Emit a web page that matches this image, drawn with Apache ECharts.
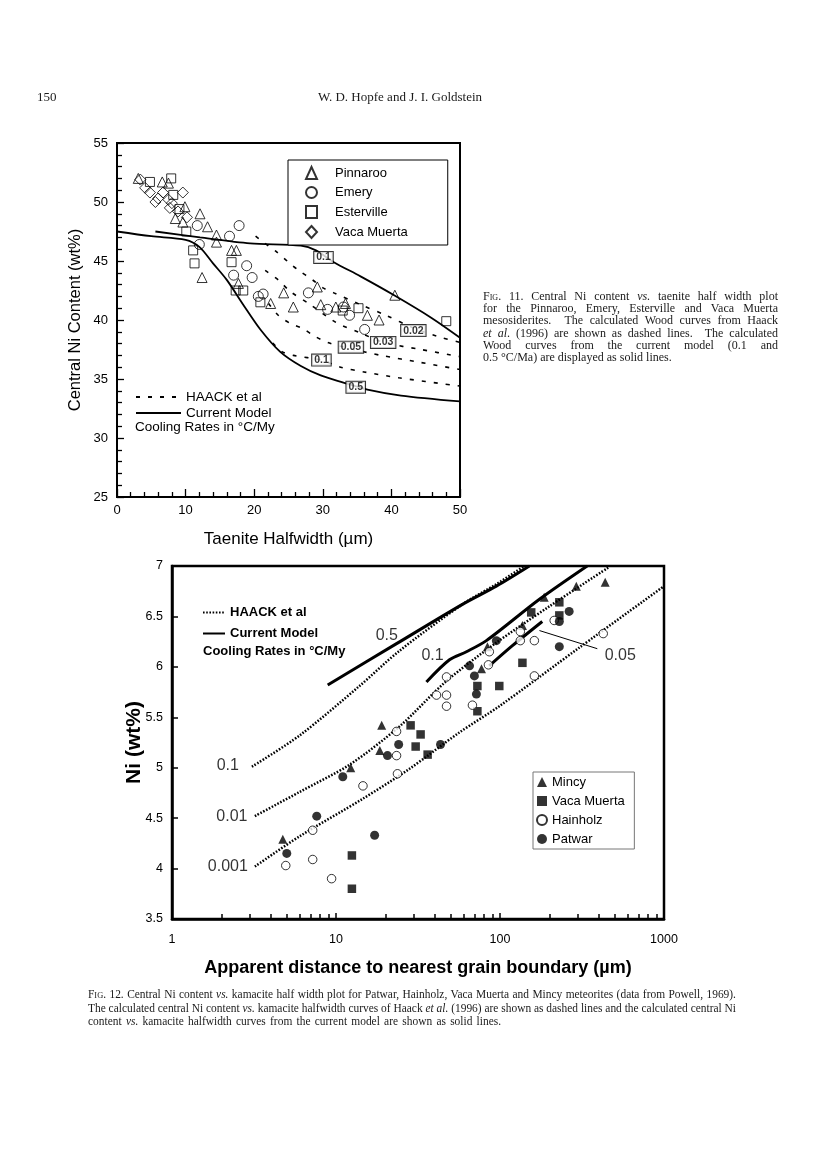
<!DOCTYPE html>
<html>
<head>
<meta charset="utf-8">
<title>Hopfe &amp; Goldstein – Figs. 11 and 12</title>
<script src="https://cdn.jsdelivr.net/npm/echarts@6.0.0/dist/echarts.min.js"></script>
<style>
html,body{margin:0;padding:0;background:#fff;}
#page{position:relative;width:816px;height:1151px;overflow:hidden;background:#fff;}
#chart{position:absolute;left:0;top:0;width:816px;height:1151px;}
.txt{position:absolute;font-family:"Liberation Serif","Times New Roman",serif;color:#1a1a1a;white-space:nowrap;}
.sc{font-variant:small-caps;}
</style>
</head>
<body>
<div id="page">
<div id="chart"></div>
<div class="txt" style="left:37px;top:89px;font-size:13px;line-height:16px;">150</div>
<div class="txt" style="left:250px;width:300px;top:89px;font-size:13px;line-height:16px;text-align:center;">W. D. Hopfe and J. I. Goldstein</div>
</div>
<script>
// ================= FIG. 11 data (taenite halfwidth µm, central Ni wt%) =================
const fig11Pinnaroo = [[3.1,52.0],[6.6,51.7],[7.5,51.6],[8.5,48.6],[9.6,48.3],[9.9,49.6],[12.1,49.0],[13.2,47.9],[14.5,47.2],[14.5,46.6],[16.7,45.9],[17.4,45.9],[12.4,43.6],[17.7,43.1],[22.4,41.4],[24.3,42.3],[25.7,41.1],[29.2,42.8],[29.7,41.3],[31.9,41.1],[33.3,41.4],[36.5,40.4],[38.2,40.0],[40.5,42.1]];
const fig11Emery = [[11.7,48.0],[17.8,48.0],[16.4,47.1],[12.0,46.4],[18.9,44.6],[17.0,43.8],[19.7,43.6],[21.3,42.2],[20.6,42.0],[27.9,42.3],[30.7,40.9],[33.0,41.1],[33.9,40.4],[36.1,39.2]];
const fig11Esterville = [[4.8,51.7],[7.9,52.0],[8.2,50.6],[9.1,49.4],[10.1,47.5],[11.1,45.9],[11.3,44.8],[16.7,44.9],[17.3,42.5],[18.4,42.5],[20.9,41.5],[32.9,40.8],[35.2,41.0],[48.0,39.9]];
const fig11VacaMuerta = [[3.4,51.9],[4.1,51.2],[4.8,50.8],[5.6,50.0],[6.0,50.3],[6.7,50.8],[7.5,50.2],[8.0,49.9],[7.7,49.5],[8.9,49.2],[9.6,50.8],[10.2,48.7]];
// current model (solid)
const fig11Model01 = [[5.6,47.5],[12.1,47.0],[19.4,46.5],[26.8,46.3],[29.0,45.9],[31.6,44.9],[35.5,43.7],[40.4,42.1],[45.8,40.2],[50,38.5]];
const fig11Model05 = [[0,47.5],[5,47.1],[10,46.8],[12,46.2],[14,44.8],[16,43.4],[18.4,41.3],[20.9,39.2],[23.8,37.3],[26.8,36.1],[29.7,35.3],[33,34.7],[36.5,34.1],[41.4,33.6],[50,33.1]];
// Haack et al. (dashed)
const fig11Haack002 = [[20.2,47.1],[21.3,46.6],[23.1,45.85],[25.0,44.9],[26.5,44.2],[28.5,43.4],[30.1,42.7],[31.6,42.3],[35.5,41.3],[39.2,40.4],[43.3,39.3],[46.8,38.6],[50,38.1]];
const fig11Haack003 = [[21.6,44.2],[23.5,43.4],[25.3,42.4],[28.2,41.3],[31.9,39.8],[35.5,38.9],[38.9,38.1],[44.3,37.5],[50,36.9]];
const fig11Haack005 = [[22.1,41.4],[23.5,40.4],[25.3,39.7],[27.0,39.3],[28.9,38.6],[30.7,38.1],[33.8,37.6],[38.5,37.0],[44.3,36.4],[50,35.8]];
const fig11Haack01 = [[22.7,38.05],[24.1,37.3],[25.7,37.0],[29.8,36.6],[32.6,36.0],[36.0,35.6],[41.1,35.1],[50,34.4]];
const fig11CurveLabels = ['0.1','0.02','0.03','0.05','0.1','0.5'];
const fig11CurveLabelPos = [[30.1,45.3],[43.2,39.1],[38.8,38.1],[34.1,37.7],[29.8,36.6],[34.8,34.3]];
const fig11XRange = [0, 50, 10];
const fig11YRange = [25, 55, 5];

// ================= FIG. 12 data (distance µm, Ni wt%) =================
const fig12Mincy = [[4.74,4.29],[12.3,5.00],[18.5,5.17],[19.0,5.42],[77.1,5.98],[83.8,6.20],[137,6.41],[186,6.69],[292,6.80],[438,6.84]];
const fig12VacaMuerta = [[12.5,4.13],[12.5,3.80],[28.5,5.42],[32.8,5.33],[30.6,5.21],[36.2,5.13],[72.8,5.81],[72.8,5.56],[99,5.81],[137,6.04],[155,6.54],[230,6.64],[230,6.51]];
const fig12Hainholz = [[4.94,4.03],[7.21,4.38],[7.21,4.09],[9.4,3.90],[14.6,4.82],[23.4,5.36],[23.4,5.12],[23.7,4.94],[41.0,5.72],[47.2,5.72],[47.2,5.61],[47.2,5.90],[67.9,5.62],[85,6.02],[86.1,6.15],[133,6.35],[133,6.26],[162,6.26],[162,5.91],[214,6.46],[426,6.33]];
const fig12Patwar = [[5.01,4.15],[7.63,4.52],[11.0,4.91],[17.2,4.33],[20.6,5.12],[24.1,5.23],[43.4,5.23],[65.2,6.01],[69.8,5.91],[71.8,5.73],[95,6.26],[230,6.45],[230,6.20],[264,6.55]];
// Haack et al. (dotted)
const fig12Haack01 = [[3.07,5.01],[6.0,5.32],[13.9,5.81],[24,6.15],[59,6.62],[95,6.82],[141,7.0]];
const fig12Haack001 = [[3.2,4.52],[6.0,4.76],[12.1,5.03],[24.4,5.41],[47.2,5.86],[95,6.24],[200,6.6],[463,6.99]];
const fig12Haack0001 = [[3.2,4.02],[6.0,4.32],[14.5,4.69],[28.1,4.99],[56.6,5.35],[99,5.61],[304,6.19],[1000,6.8]];
// current model (solid)
const fig12Model05 = [[8.9,5.82],[23.4,6.23],[59,6.62],[95,6.8],[151,7.0]];
const fig12Model01 = [[35.6,5.85],[49.2,6.07],[62.4,6.15],[82.6,6.26],[174,6.67],[340,7.0]];
const fig12Model005 = [[86,6.01],[119,6.21],[181,6.45]];
const fig12Leader005 = [[174,6.36],[392,6.18]];
const fig12CurveLabels = ['0.5','0.1','0.05','0.1','0.01','0.001'];
const fig12CurveLabelPos = [[20.4,6.31],[38.8,6.11],[541,6.11],[2.19,5.02],[2.32,4.52],[2.19,4.02]];
const fig12XRange = [1, 1000];
const fig12YRange = [3.5, 7, 0.5];

// ================= captions =================
const cap11Lines = [
  '<span class="sc">Fig</span>. 11. Central Ni content <i>vs.</i> taenite half width plot',
  'for the Pinnaroo, Emery, Esterville and Vaca Muerta',
  'mesosiderites. &nbsp;The calculated Wood curves from Haack',
  '<i>et al</i>. (1996) are shown as dashed lines. &nbsp;The calculated',
  'Wood curves from the current model (0.1 and',
  '0.5 °C/Ma) are displayed as solid lines.'
];
const cap12Lines = [
  '<span class="sc">Fig</span>. 12. Central Ni content <i>vs.</i> kamacite half width plot for Patwar, Hainholz, Vaca Muerta and Mincy meteorites (data from Powell, 1969).',
  'The calculated central Ni content <i>vs.</i> kamacite halfwidth curves of Haack <i>et al.</i> (1996) are shown as dashed lines and the calculated central Ni',
  'content <i>vs.</i> kamacite halfwidth curves from the current model are shown as solid lines.'
];

const page = document.getElementById('page');
// Justified block: one uniform horizontal scale for every line, word spacing fills the rest
function placeLines(lines, left, top0, lh, width, fontSize, lastWidth){
  const els = lines.map((html,i)=>{
    const d = document.createElement('div');
    d.className = 'txt';
    d.style.left = left+'px';
    d.style.top = (top0 + i*lh)+'px';
    d.style.fontSize = fontSize+'px';
    d.style.lineHeight = lh+'px';
    d.innerHTML = html;
    page.appendChild(d);
    return d;
  });
  const widths = els.map(d=>d.getBoundingClientRect().width);
  const maxW = Math.max.apply(null, widths.slice(0, -1));
  const s = Math.min(1, width/maxW);
  els.forEach((d,i)=>{
    d.style.transformOrigin='0 0';
    d.style.transform='scaleX('+s+')';
    const last = i === els.length-1;
    const target = last ? (lastWidth||0) : width;
    const spaces = (d.textContent.match(/[ \u00a0]/g)||[]).length;
    if (target && spaces) {
      let extra = (target/s - widths[i]) / spaces;
      if (last) extra = Math.max(0, Math.min(extra, 1.5));
      if (extra > 0) d.style.wordSpacing = extra+'px';
    }
  });
}
placeLines(cap11Lines, 483, 290, 12.2, 295, 12, 0);
placeLines(cap12Lines, 88, 988, 13.5, 648, 12.3, 439);

// ================= chart =================
const FONT = '"Liberation Sans", Arial, sans-serif';
const black = '#000';

function lineSeries(name, data, gi, ls, z){
  return {type:'line', name, data, xAxisIndex:gi, yAxisIndex:gi, symbol:'none', smooth:0.3,
    lineStyle:Object.assign({color:black}, ls), itemStyle:{color:black}, z:z||2, silent:true};
}
function scatterSeries(name, data, gi, symbol, size, fill, bw){
  return {type:'scatter', name, data, xAxisIndex:gi, yAxisIndex:gi, symbol, symbolSize:size,
    itemStyle:{color:fill, borderColor:black, borderWidth:bw}, z:6, silent:true};
}
function labelSeries(gi, names, pos, style){
  return {type:'scatter', xAxisIndex:gi, yAxisIndex:gi, symbolSize:1, z:20, silent:true,
    itemStyle:{color:'rgba(0,0,0,0)'},
    data:names.map((n,i)=>({name:n, value:pos[i]})),
    label:Object.assign({show:true, position:'inside', formatter:'{b}', color:black, fontFamily:FONT}, style)};
}

const dashTop = {width:1.6, type:[4,8]};
const solidTop = {width:1.8};
const dotBot = {width:2.5, type:[1.6,1.6]};
const solidBot = {width:3};
const hollow = 'rgba(255,255,255,0)';
const noSymbol = {color:'rgba(0,0,0,0)', borderColor:'rgba(0,0,0,0)', borderWidth:0};

const option = {
  animation:false,
  backgroundColor:'transparent',
  grid:[
    {left:117, top:143, width:343, height:354, show:true, borderColor:black, borderWidth:2, backgroundColor:'transparent'},
    {left:172, top:566, width:492, height:353, show:true, borderColor:black, borderWidth:2.5, backgroundColor:'transparent'}
  ],
  xAxis:[
    {gridIndex:0, type:'value', min:fig11XRange[0], max:fig11XRange[1], interval:fig11XRange[2],
      axisLine:{lineStyle:{color:black,width:2}},
      axisTick:{inside:true,length:8,lineStyle:{color:black,width:1.3}},
      minorTick:{show:true,splitNumber:5,length:5,lineStyle:{color:black,width:1.3}},
      splitLine:{show:false}, minorSplitLine:{show:false},
      axisLabel:{color:black,fontSize:13,margin:7,fontFamily:FONT},
      name:'Taenite Halfwidth (µm)', nameLocation:'middle', nameGap:34,
      nameTextStyle:{color:black,fontSize:17,fontFamily:FONT}},
    {gridIndex:1, type:'log', logBase:10, min:fig12XRange[0], max:fig12XRange[1],
      axisLine:{lineStyle:{color:black,width:2.5}},
      axisTick:{inside:true,length:6,lineStyle:{color:black,width:1.5}},
      minorTick:{show:true,splitNumber:9,length:5,lineStyle:{color:black,width:1.5}},
      splitLine:{show:false}, minorSplitLine:{show:false},
      axisLabel:{color:black,fontSize:12.5,margin:14,fontFamily:FONT,formatter:v=>String(v)},
      name:'Apparent distance to nearest grain boundary (µm)', nameLocation:'middle', nameGap:40,
      nameTextStyle:{color:black,fontSize:18,fontWeight:'bold',fontFamily:FONT}}
  ],
  yAxis:[
    {gridIndex:0, type:'value', min:fig11YRange[0], max:fig11YRange[1], interval:fig11YRange[2],
      axisLine:{lineStyle:{color:black,width:2}},
      axisTick:{inside:true,length:7,lineStyle:{color:black,width:1.3}},
      minorTick:{show:true,splitNumber:5,length:5,lineStyle:{color:black,width:1.3}},
      splitLine:{show:false}, minorSplitLine:{show:false},
      axisLabel:{color:black,fontSize:13,margin:9,fontFamily:FONT},
      name:'Central Ni Content (wt%)', nameLocation:'middle', nameGap:33,
      nameTextStyle:{color:black,fontSize:16.5,fontFamily:FONT}},
    {gridIndex:1, type:'value', min:fig12YRange[0], max:fig12YRange[1], interval:fig12YRange[2],
      axisLine:{lineStyle:{color:black,width:2.5}},
      axisTick:{inside:true,length:6,lineStyle:{color:black,width:1.5}},
      splitLine:{show:false},
      axisLabel:{color:black,fontSize:12.5,margin:9,fontFamily:FONT},
      name:'Ni (wt%)', nameLocation:'middle', nameGap:27, nameMoveOverlap:false,
      nameTextStyle:{color:black,fontSize:21,fontWeight:'bold',fontFamily:FONT}}
  ],
  legend:[
    {data:['Pinnaroo','Emery','Esterville','Vaca Muerta'], orient:'vertical', left:288, top:160,
      padding:[6,40,6,17], itemWidth:11, itemHeight:12, itemGap:6, selectedMode:false,
      borderColor:black, borderWidth:1, backgroundColor:'#fff',
      textStyle:{color:black,fontSize:13,lineHeight:12,fontFamily:FONT,padding:[0,0,0,13]}},
    {data:['HAACK et al','Current Model'], orient:'vertical', left:135, top:390, padding:0,
      itemWidth:45, itemHeight:12, itemGap:2, selectedMode:false, itemStyle:noSymbol,
      textStyle:{color:black,fontSize:13.5,lineHeight:12,fontFamily:FONT}},
    {data:['Mincy','Vaca Muerta ','Hainholz','Patwar'], orient:'vertical', left:533, top:772,
      padding:[3,6,3,3], itemWidth:10, itemHeight:10, itemGap:5, selectedMode:false,
      borderColor:'#777', borderWidth:1, backgroundColor:'#fff',
      textStyle:{color:black,fontSize:13,lineHeight:14,fontFamily:FONT}},
    {data:['HAACK et al ','Current Model '], orient:'vertical', left:202, top:606, padding:0,
      itemWidth:22, itemHeight:12, itemGap:8, selectedMode:false, itemStyle:noSymbol,
      textStyle:{color:black,fontSize:13,fontWeight:'bold',lineHeight:12,fontFamily:FONT}}
  ],
  graphic:[
    {type:'text', left:135, top:420, style:{text:'Cooling Rates in °C/My', fill:black, font:'13.5px '+FONT}},
    {type:'text', left:203, top:645, style:{text:'Cooling Rates in °C/My', fill:black, font:'bold 13px '+FONT}}
  ],
  series:[
    // ---- Fig. 11 ----
    lineSeries('Current Model', fig11Model01, 0, solidTop),
    lineSeries('Current Model', fig11Model05, 0, solidTop),
    lineSeries('HAACK et al', fig11Haack002, 0, dashTop),
    lineSeries('HAACK et al', fig11Haack003, 0, dashTop),
    lineSeries('HAACK et al', fig11Haack005, 0, dashTop),
    lineSeries('HAACK et al', fig11Haack01, 0, dashTop),
    scatterSeries('Pinnaroo', fig11Pinnaroo, 0, 'triangle', 10, hollow, 1),
    scatterSeries('Emery', fig11Emery, 0, 'circle', 10, hollow, 1),
    scatterSeries('Esterville', fig11Esterville, 0, 'rect', 9, hollow, 1),
    scatterSeries('Vaca Muerta', fig11VacaMuerta, 0, 'diamond', 11, hollow, 1),
    labelSeries(0, fig11CurveLabels, fig11CurveLabelPos,
      {fontSize:10.5, fontWeight:'bold', lineHeight:11, padding:[0,2], backgroundColor:'#fff', borderColor:black, borderWidth:1}),
    // ---- Fig. 12 ----
    lineSeries('HAACK et al ', fig12Haack01, 1, dotBot),
    lineSeries('HAACK et al ', fig12Haack001, 1, dotBot),
    lineSeries('HAACK et al ', fig12Haack0001, 1, dotBot),
    lineSeries('Current Model ', fig12Model05, 1, solidBot, 3),
    lineSeries('Current Model ', fig12Model01, 1, solidBot, 3),
    lineSeries('Current Model ', fig12Model005, 1, solidBot, 3),
    Object.assign(lineSeries('leader', fig12Leader005, 1, {width:1}), {smooth:false}),
    scatterSeries('Mincy', fig12Mincy, 1, 'triangle', 9, black, 0),
    scatterSeries('Vaca Muerta ', fig12VacaMuerta, 1, 'rect', 8.5, black, 0),
    scatterSeries('Hainholz', fig12Hainholz, 1, 'circle', 8.5, '#fff', 1),
    scatterSeries('Patwar', fig12Patwar, 1, 'circle', 9, black, 0),
    labelSeries(1, fig12CurveLabels, fig12CurveLabelPos, {fontSize:16})
  ]
};

const chart = echarts.init(document.getElementById('chart'), null, {renderer:'canvas'});
chart.setOption(option);
</script>
</body>
</html>
